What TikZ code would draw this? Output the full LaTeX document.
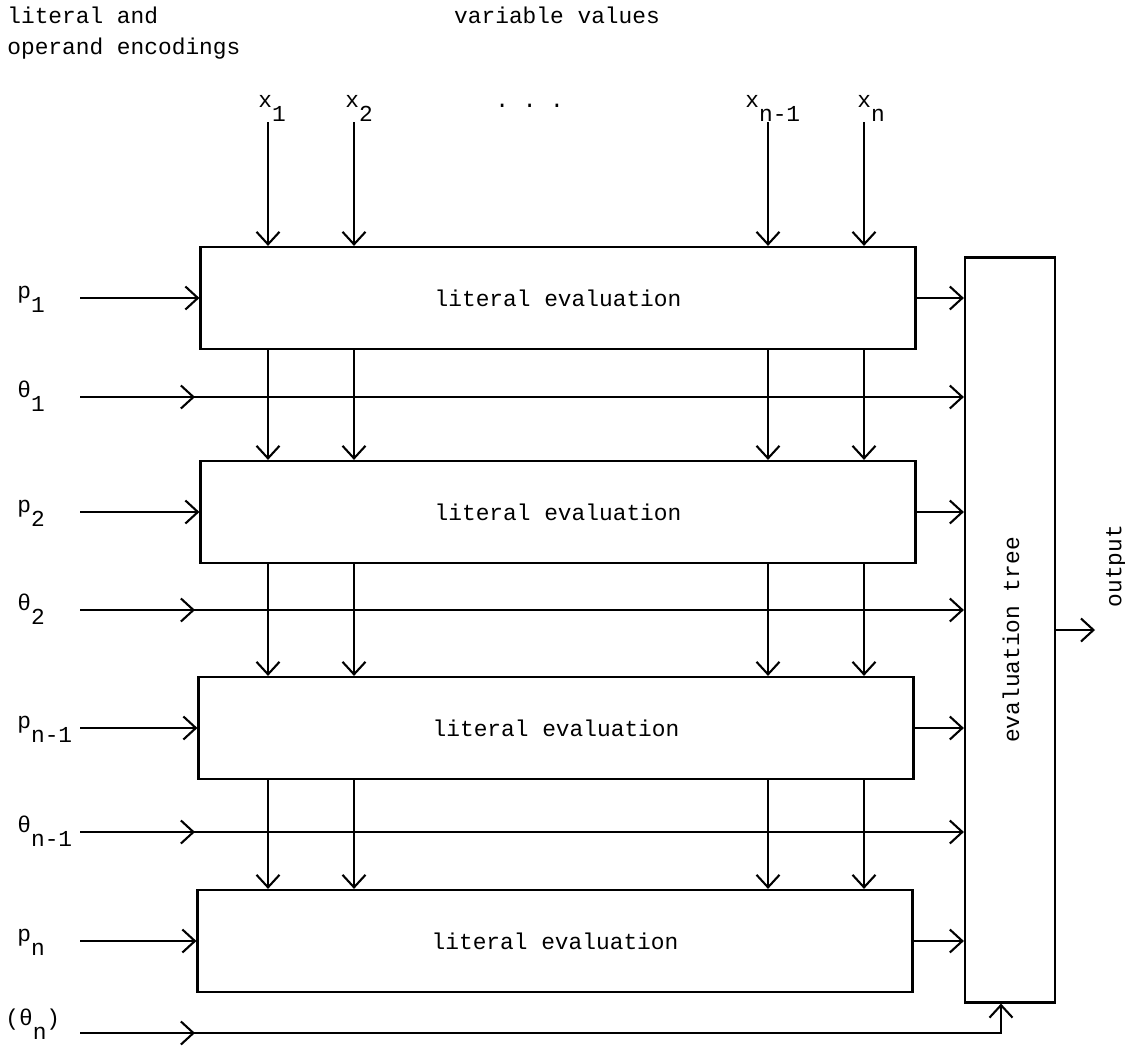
\documentclass[tikz,border=0pt]{standalone}
\usepackage{fontspec}
\setmonofont{Liberation Mono}
\usetikzlibrary{arrows.meta, positioning, decorations.markings}

\newcommand{\low}[1]{\raisebox{-0.62em}{#1}}

\begin{document}
\begin{tikzpicture}[
  x=0.02cm, y=-0.02cm,
  font=\ttfamily\fontsize{13}{17.6}\selectfont,
  every node/.style={font=\ttfamily\fontsize{13}{17.6}\selectfont},
  litbox/.style={draw, line width=0.45mm, minimum width=14.3cm, minimum height=2.04cm, inner sep=0pt},
  treebox/.style={draw, line width=0.45mm, minimum width=1.8cm, minimum height=14.9cm, inner sep=0pt},
  lbl/.style={inner sep=0pt, anchor=base west},
  arrow/.style={-{Straight Barb[length=2.5mm, width=4.6mm]}, line width=0.42mm},
  midarrow/.style={arrow, postaction={decorate},
    decoration={markings, mark=at position 2.3cm with {\arrow{Straight Barb[length=2.5mm, width=4.6mm]}}}}
]
\useasboundingbox (0,0) rectangle (1125,1045);

% === HEADINGS ===
\node[anchor=north west, align=left, inner sep=0pt] (enc) at (7,7) {literal and\\operand encodings};
\node[anchor=north, inner sep=0pt] (vals) at (557,7) {variable values};

% variable inputs
\node[lbl] (x1)   at (258,107) {x\low{1}};
\node[lbl] (x2)   at (345,107) {x\low{2}};
\node[lbl] (dots) at (495,107) {. . .};
\node[lbl] (xn1)  at (745,107) {x\low{n-1}};
\node[lbl] (xn)   at (857,107) {x\low{n}};

\coordinate (c1) at (268,122);
\coordinate (c2) at (354,122);
\coordinate (c3) at (768,122);
\coordinate (c4) at (864,122);
\coordinate (inp) at (80,0);

% === LITERAL EVALUATION STAGES ===
\node[litbox] (lit1) at (558,298) {literal evaluation};
\node[litbox] (lit2) at (558,512) {literal evaluation};
\node[litbox] (lit3) at (556,728) {literal evaluation};
\node[litbox] (lit4) at (555,941) {literal evaluation};

% === EVALUATION TREE ===
\node[treebox] (tree) at (1010,630) {};
\node[rotate=90] (treelbl) at (1011,640) {evaluation tree};
\node[rotate=90] (outlbl)  at (1116,566) {output};
\coordinate (outend) at (1095,630);

% left-hand encodings
\node[lbl] (p1)   at (17,298)  {p\low{1}};
\node[lbl] (th1)  at (17,397)  {θ\low{1}};
\node[lbl] (p2)   at (17,512)  {p\low{2}};
\node[lbl] (th2)  at (17,610)  {θ\low{2}};
\node[lbl] (pn1)  at (17,728)  {p\low{n-1}};
\node[lbl] (thn1) at (17,832)  {θ\low{n-1}};
\node[lbl] (pn)   at (17,941)  {p\low{n}};
\node[lbl] (thn)  at (5,1025)  {(θ\low{n})};
\coordinate (thnin) at (80,1033);

% literal encodings into the boxes
\draw[arrow] (inp |- lit1) -- (lit1.west);
\draw[arrow] (inp |- lit2) -- (lit2.west);
\draw[arrow] (inp |- lit3) -- (lit3.west);
\draw[arrow] (inp |- lit4) -- (lit4.west);

% operand encodings straight to the tree
\draw[midarrow] (inp |- th1.base)  -- (th1.base -| tree.west);
\draw[midarrow] (inp |- th2.base)  -- (th2.base -| tree.west);
\draw[midarrow] (inp |- thn1.base) -- (thn1.base -| tree.west);
\draw[midarrow] (thnin) -| ([xshift=-1.8mm]tree.south);

% variable values down through the stages
\draw[arrow] (c1) -- (c1 |- lit1.north);
\draw[arrow] (c2) -- (c2 |- lit1.north);
\draw[arrow] (c3) -- (c3 |- lit1.north);
\draw[arrow] (c4) -- (c4 |- lit1.north);

\draw[arrow] (c1 |- lit1.south) -- (c1 |- lit2.north);
\draw[arrow] (c2 |- lit1.south) -- (c2 |- lit2.north);
\draw[arrow] (c3 |- lit1.south) -- (c3 |- lit2.north);
\draw[arrow] (c4 |- lit1.south) -- (c4 |- lit2.north);

\draw[arrow] (c1 |- lit2.south) -- (c1 |- lit3.north);
\draw[arrow] (c2 |- lit2.south) -- (c2 |- lit3.north);
\draw[arrow] (c3 |- lit2.south) -- (c3 |- lit3.north);
\draw[arrow] (c4 |- lit2.south) -- (c4 |- lit3.north);

\draw[arrow] (c1 |- lit3.south) -- (c1 |- lit4.north);
\draw[arrow] (c2 |- lit3.south) -- (c2 |- lit4.north);
\draw[arrow] (c3 |- lit3.south) -- (c3 |- lit4.north);
\draw[arrow] (c4 |- lit3.south) -- (c4 |- lit4.north);

% stage results into the tree
\draw[arrow] (lit1.east) -- (lit1.east -| tree.west);
\draw[arrow] (lit2.east) -- (lit2.east -| tree.west);
\draw[arrow] (lit3.east) -- (lit3.east -| tree.west);
\draw[arrow] (lit4.east) -- (lit4.east -| tree.west);

\draw[arrow] (tree.east) -- (outend);

\end{tikzpicture}
\end{document}
